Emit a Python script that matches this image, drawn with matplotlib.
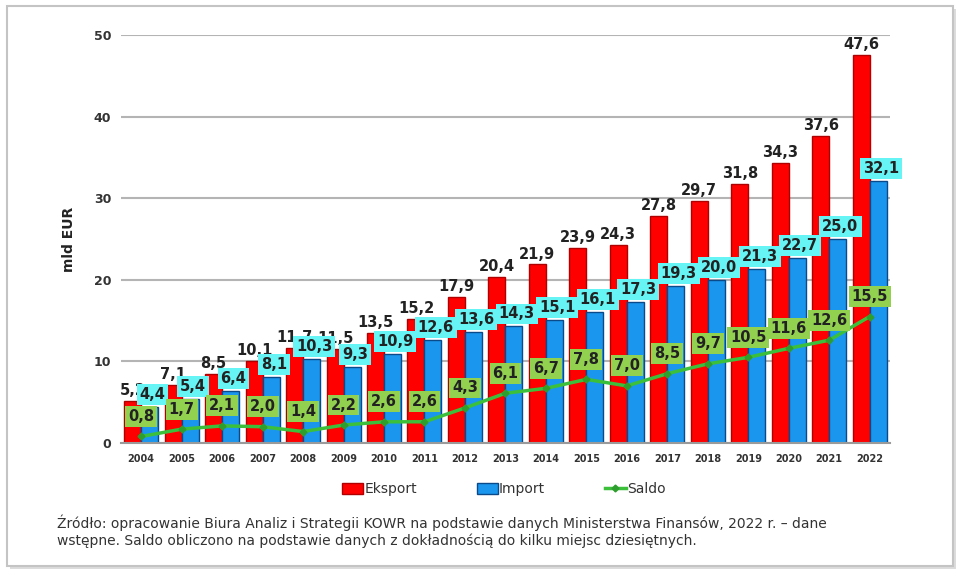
import matplotlib

matplotlib.use("Agg")
import matplotlib.pyplot as plt  # noqa: E402
from matplotlib.lines import Line2D  # noqa: E402
from matplotlib.patches import FancyBboxPatch, Patch  # noqa: E402

years = [str(y) for y in range(2004, 2023)]
eksport = [5.2, 7.1, 8.5, 10.1, 11.7, 11.5, 13.5, 15.2, 17.9, 20.4,
           21.9, 23.9, 24.3, 27.8, 29.7, 31.8, 34.3, 37.6, 47.6]
import_ = [4.4, 5.4, 6.4, 8.1, 10.3, 9.3, 10.9, 12.6, 13.6, 14.3,
           15.1, 16.1, 17.3, 19.3, 20.0, 21.3, 22.7, 25.0, 32.1]
saldo = [0.8, 1.7, 2.1, 2.0, 1.4, 2.2, 2.6, 2.6, 4.3, 6.1,
         6.7, 7.8, 7.0, 8.5, 9.7, 10.5, 11.6, 12.6, 15.5]
yticks = [0, 10, 20, 30, 40, 50]

RED, RED_EDGE = "#ff0000", "#b00000"
BLUE, BLUE_EDGE = "#1a96ee", "#0b4a8a"
GREEN_LINE = "#3cc03c"
CYAN_BOX = "#66f4f4"
GREEN_BOX = "#92d050"
TXT = "#222222"


def fmt(v):
    return f"{v:.1f}".replace(".", ",")


fig = plt.figure(figsize=(9.6, 5.74), dpi=100)

# shadowed frame around the whole chart
fig.patches.append(FancyBboxPatch((0.0105, 0.0085), 0.985, 0.976, boxstyle="square,pad=0",
                                  transform=fig.transFigure, facecolor="#dcdcdc",
                                  edgecolor="none", zorder=-2))
fig.patches.append(FancyBboxPatch((0.0073, 0.0139), 0.9854, 0.9756, boxstyle="square,pad=0",
                                  transform=fig.transFigure, facecolor="white",
                                  edgecolor="#c4c4c4", linewidth=1.5, zorder=-1))

ax = fig.add_axes([0.126, 0.2282, 0.801, 0.7108])
ax.set_zorder(1)
ax.set_facecolor("none")
x = list(range(len(years)))
w = 0.42

ax.bar([i - w / 2 for i in x], eksport, width=w, color=RED, edgecolor=RED_EDGE,
       linewidth=1, zorder=2)
ax.bar([i + w / 2 for i in x], import_, width=w, color=BLUE, edgecolor=BLUE_EDGE,
       linewidth=1, zorder=2)
ax.plot(x, saldo, color=GREEN_LINE, linewidth=2.5, marker="D", markersize=3.5,
        markerfacecolor="#2e9e2e", markeredgecolor="#2e9e2e", zorder=4)

for i in x:
    ax.annotate(fmt(eksport[i]), (i - w / 2, eksport[i]), xytext=(0, 2),
                textcoords="offset points", ha="center", va="bottom",
                fontsize=10.5, fontweight="bold", color=TXT, zorder=5)
    ax.annotate(fmt(import_[i]), (i + w / 2, import_[i]), xytext=(2, 3.5),
                textcoords="offset points", ha="center", va="bottom",
                fontsize=10.5, fontweight="bold", color=TXT, zorder=6,
                bbox=dict(boxstyle="square,pad=0.2", facecolor=CYAN_BOX, edgecolor="none"))
for i in x:
    ax.annotate(fmt(saldo[i]), (i, saldo[i]), xytext=(0, 9),
                textcoords="offset points", ha="center", va="bottom",
                fontsize=10.5, fontweight="bold", color=TXT, zorder=7,
                bbox=dict(boxstyle="square,pad=0.2", facecolor=GREEN_BOX, edgecolor="none"))

ax.set_xlim(-0.5, len(years) - 0.5)
ax.set_ylim(0, 50)
ax.set_yticks(yticks)
ax.set_yticklabels([str(t) for t in yticks], fontsize=9, fontweight="bold", color="#333333")
ax.set_xticks(x)
ax.set_xticklabels(years, fontsize=7, fontweight="bold", color="#333333")
ax.tick_params(axis="both", length=0)
ax.tick_params(axis="y", pad=7)
ax.tick_params(axis="x", pad=8)
ax.yaxis.grid(True, color="#b4b4b4", linewidth=1.5, zorder=0)
ax.set_axisbelow(True)
for s in ("top", "right", "left"):
    ax.spines[s].set_visible(False)
ax.spines["bottom"].set_color("#9a9a9a")
ax.spines["bottom"].set_linewidth(1.5)
ax.set_ylabel("mld EUR", fontsize=10, fontweight="bold", color=TXT, labelpad=13)

handles = [
    Patch(facecolor=RED, edgecolor=RED_EDGE, label="Eksport"),
    Patch(facecolor=BLUE, edgecolor=BLUE_EDGE, label="Import"),
    Line2D([0], [0], color=GREEN_LINE, linewidth=2.5, marker="D", markersize=3.5,
           markerfacecolor="#2e9e2e", markeredgecolor="#2e9e2e", label="Saldo"),
]
fig.legend(handles=handles, loc="center", bbox_to_anchor=(0.525, 0.148), ncol=3,
           frameon=False, fontsize=10, handlelength=1.5, handleheight=0.8,
           handletextpad=0.1, columnspacing=4.3, labelcolor="#333333")

fig.text(0.059, 1 - 523 / 574,
         "Źródło: opracowanie Biura Analiz i Strategii KOWR na podstawie danych "
         "Ministerstwa Finansów, 2022 r. – dane",
         fontsize=10, color="#333333", va="center", ha="left")
fig.text(0.059, 1 - 541 / 574,
         "wstępne. Saldo obliczono na podstawie danych z dokładnością do kilku "
         "miejsc dziesiętnych.",
         fontsize=10, color="#333333", va="center", ha="left")

fig.savefig("out.png", dpi=100)
